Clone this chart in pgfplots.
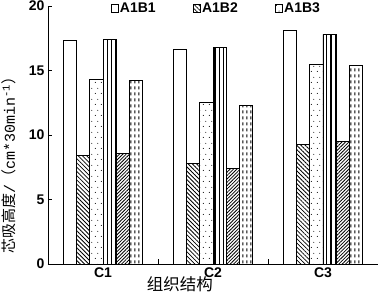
\documentclass[border=0pt]{standalone}
\usepackage{fontspec}
\setmainfont{Liberation Sans}
\newfontfamily\cjk{Noto Sans CJK SC}
\newfontfamily\mono{Liberation Mono}
\usepackage{pgfplots}
\pgfplotsset{compat=1.18}
\usetikzlibrary{patterns,patterns.meta}

\pgfdeclarepatternformonly{sparsedots}{\pgfqpoint{0pt}{0pt}}{\pgfqpoint{5.5pt}{11pt}}{\pgfqpoint{5.5pt}{11pt}}{%
  \pgfpathcircle{\pgfqpoint{1.4pt}{2.75pt}}{0.55pt}%
  \pgfpathcircle{\pgfqpoint{4.1pt}{8.25pt}}{0.55pt}%
  \pgfusepath{fill}}
\pgfdeclarepatternformonly{vdashes}{\pgfqpoint{0pt}{0pt}}{\pgfqpoint{4.3pt}{6pt}}{\pgfqpoint{4.3pt}{6pt}}{%
  \pgfsetlinewidth{1pt}%
  \pgfpathmoveto{\pgfqpoint{2.15pt}{0.8pt}}%
  \pgfpathlineto{\pgfqpoint{2.15pt}{4.2pt}}%
  \pgfusepath{stroke}}

\pgfplotstableread{
x  b1   b2   b3   b4   b5   b6
1  17.3 8.4  14.3 17.4 8.6  14.2
2  16.6 7.8  12.5 16.8 7.4  12.3
3  18.1 9.3  15.5 17.8 9.5  15.4
}\datatable

\begin{document}
\begin{tikzpicture}
\useasboundingbox (-48pt,-30pt) rectangle (330pt,264pt);
\begin{axis}[
  at={(0pt,0pt)}, anchor=south west,
  scale only axis,
  width=330pt, height=258pt,
  xmin=0.5, xmax=3.5, ymin=0, ymax=20,
  enlargelimits=false,
  axis lines*=left,
  axis line style={black, line width=0.8pt},
  ybar=0pt, bar width=0.121,
  xtick={1,2,3}, xticklabels={C1,C2,C3},
  minor xtick={1.5,2.5},
  major x tick style={draw=none},
  ytick={0,5,10,15,20},
  minor ytick={},
  tick align=inside,
  major tick length=4.5pt,
  minor tick length=4.5pt,
  tick style={black, line width=0.8pt},
  /pgf/number format/assume math mode=true,
  ticklabel style={font=\bfseries\fontsize{14}{16}\selectfont},
  xticklabel style={yshift=-0.5pt},
  xlabel={\cjk\fontsize{16.5}{18}\selectfont 组织结构},
  xlabel style={at={(axis description cs:0.4,-0.079)}, anchor=center},
  ylabel={\fontsize{15}{17}\selectfont{\cjk 芯吸高度}{\mono /}{\cjk （}{\mono cm*30min}\textsuperscript{\mono -1}{\cjk ）}},
  ylabel style={at={(axis description cs:-0.118,0.397)}, anchor=center},
  legend columns=3,
  legend style={draw=none, fill=none, inner sep=0pt, outer sep=0pt,
    at={(rel axis cs:0.19,0.99)}, anchor=west,
    font=\bfseries\fontsize{14}{16}\selectfont,
    nodes={inner sep=1pt},
    /tikz/every even column/.append style={column sep=36pt}},
  legend image code/.code={\draw[#1, line width=0.7pt] (0pt,-3.8pt) rectangle (7.6pt,3.8pt);},
]
\addplot[draw=black, line width=0.9pt, fill=white] table[x=x,y=b1]{\datatable};
\addplot[draw=black, line width=0.9pt, pattern={Lines[angle=-45,distance=3pt,line width=0.8pt]}] table[x=x,y=b2]{\datatable};
\addplot[draw=black, line width=0.9pt, pattern=sparsedots] table[x=x,y=b3]{\datatable};
\addplot[draw=black, line width=0.9pt, pattern={Lines[angle=90,distance=4.3pt,line width=1.3pt]}] table[x=x,y=b4]{\datatable};
\addplot[draw=black, line width=0.9pt, pattern={Lines[angle=45,distance=2.4pt,line width=0.8pt]}] table[x=x,y=b5]{\datatable};
\addplot[draw=black, line width=0.9pt, pattern=vdashes] table[x=x,y=b6]{\datatable};
\legend{A1B1,A1B2,A1B3}
\end{axis}
\end{tikzpicture}
\end{document}
